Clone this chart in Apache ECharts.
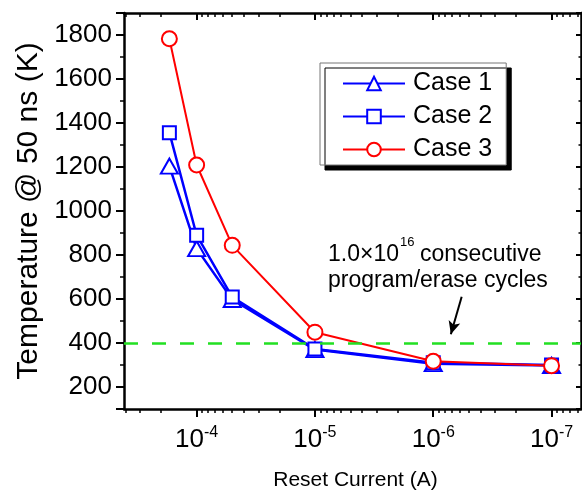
<!DOCTYPE html>
<html>
<head>
<meta charset="utf-8">
<script src="https://cdn.jsdelivr.net/npm/echarts@6/dist/echarts.min.js"></script>
<style>
html, body { margin: 0; padding: 0; background: #fff; }
#main { width: 582px; height: 492px; }
</style>
</head>
<body>
<div id="main"></div>
<script>
// values
var resetCurrent = [1.7e-4, 1e-4, 5e-5, 1e-5, 1e-6, 1e-7];   // A
var case1Temp = [1204, 829, 598, 370, 306, 298];              // K
var case2Temp = [1356, 890, 609, 373, 310, 300];
var case3Temp = [1783, 1209, 844, 449, 317, 297];
var seriesNames = ['Case 1', 'Case 2', 'Case 3'];
var xMajorExp = [-4, -5, -6, -7];       // tick labels 10^n
var limitTemp = 400;                    // 1.0x10^16 cycles line
var arrowFrom = [5.75e-7, 610];
var arrowTo = [7.1e-7, 440];

// axis ends, log10(A)
var xMinExp = -7.249, xMaxExp = -3.386;

// minor ticks 2..9 x 10^n
var xMinorExp = [];
for (var d = -8; d <= -4; d++) {
	for (var k = 2; k <= 9; k++) {
		var e = d + Math.log10(k);
		if (e > xMinExp && e < xMaxExp) xMinorExp.push(e);
	}
}

function pairs(vals) {
	var res = [];
	for (var i = 0; i < vals.length; i++) {
		res.push([resetCurrent[i], vals[i]]);
	}
	return res;
}

var FONT = 'Liberation Sans';
var black = '#000';

var myChart = echarts.init(document.getElementById('main'), null, {renderer: 'canvas'});

// one x axis carrying ticks only, in log10 space
function tickAxis(pos, vals, len, w, inside, showLine) {
	return {
		type: 'value', position: pos, inverse: true,
		min: xMinExp, max: xMaxExp,
		axisLine: {show: showLine, onZero: false, lineStyle: {color: black, width: 2.5}},
		axisTick: {show: true, inside: inside, customValues: vals, length: len, lineStyle: {color: black, width: w}},
		axisLabel: {show: false},
		splitLine: {show: false}
	};
}

var xAxes = [
	{
		type: 'log', logBase: 10, position: 'bottom', inverse: true,
		min: Math.pow(10, xMinExp), max: Math.pow(10, xMaxExp),
		axisLine: {show: true, onZero: false, lineStyle: {color: black, width: 2.5}},
		axisTick: {show: false},
		axisLabel: {show: false},
		splitLine: {show: false},
		minorTick: {show: false},
		name: 'Reset Current (A)',
		nameLocation: 'middle',
		nameGap: 61,
		nameTextStyle: {fontSize: 21, color: black, fontFamily: FONT, padding: [0, 0, 0, 6]}
	},
	{
		type: 'value', position: 'bottom', inverse: true,
		min: xMinExp, max: xMaxExp,
		axisLine: {show: false},
		axisTick: {show: true, customValues: xMajorExp, length: 8, lineStyle: {color: black, width: 2}},
		axisLabel: {
			show: true,
			customValues: xMajorExp,
			margin: 16,
			formatter: function (v) { return '{b|10}{s|' + v + '}'; },
			rich: {
				b: {fontSize: 26, lineHeight: 30, color: black, fontFamily: FONT, verticalAlign: 'middle'},
				s: {fontSize: 16, lineHeight: 14, color: black, fontFamily: FONT, verticalAlign: 'top'}
			}
		},
		splitLine: {show: false}
	},
	tickAxis('bottom', xMinorExp, 4, 1.5, false, false),
	tickAxis('top', xMajorExp, 7, 2, true, true),
	tickAxis('top', xMinorExp, 4, 1.5, true, false)
];

var yAxes = [
	{
		type: 'value', position: 'left',
		min: 100, max: 1900, splitNumber: 9,
		axisLine: {show: true, onZero: false, lineStyle: {color: black, width: 2.5}},
		axisTick: {show: true, length: 8, lineStyle: {color: black, width: 2}},
		minorTick: {show: true, splitNumber: 2, length: 4, lineStyle: {color: black, width: 1.5}},
		axisLabel: {
			fontSize: 26, color: black, fontFamily: FONT, margin: 12,
			showMinLabel: false, showMaxLabel: false,
			formatter: function (v) { return String(v); }
		},
		splitLine: {show: false},
		name: 'Temperature @ 50 ns (K)',
		nameLocation: 'middle',
		nameGap: 75,
		nameTextStyle: {fontSize: 30, color: black, fontFamily: FONT}
	},
	{
		type: 'value', position: 'right',
		min: 100, max: 1900, splitNumber: 9,
		axisLine: {show: true, onZero: false, lineStyle: {color: black, width: 2.5}},
		axisTick: {show: true, inside: true, length: 5, lineStyle: {color: black, width: 2}},
		minorTick: {show: true, splitNumber: 2, length: 2.5, lineStyle: {color: black, width: 1.5}},
		axisLabel: {show: false},
		splitLine: {show: false}
	}
];

var noteStyle = {fontSize: 23, fill: black, fontFamily: FONT};

var option = {
	animation: false,
	backgroundColor: '#fff',
	textStyle: {fontFamily: FONT},
	grid: {left: 124, right: 1, top: 13, bottom: 83, outerBoundsMode: 'none'},
	legend: {
		orient: 'vertical',
		left: 320, top: 63,
		data: seriesNames,
		selectedMode: false,
		itemWidth: 62, itemHeight: 17, itemGap: 8,
		padding: [8, 14, 3, 22],
		backgroundColor: '#fff',
		borderColor: '#777', borderWidth: 1,
		shadowColor: '#000', shadowBlur: 0, shadowOffsetX: 5, shadowOffsetY: 5,
		textStyle: {fontSize: 25, color: black, fontFamily: FONT, padding: [0, 0, 0, 3]}
	},
	xAxis: xAxes,
	yAxis: yAxes,
	graphic: [
		{type: 'text', left: 328, top: 243, silent: true,
			style: echarts.util.extend({text: '1.0×10'}, noteStyle)},
		{type: 'text', left: 400, top: 236, silent: true,
			style: {text: '16', fontSize: 13, fill: black, fontFamily: FONT}},
		{type: 'text', left: 420, top: 243, silent: true,
			style: echarts.util.extend({text: 'consecutive'}, noteStyle)},
		{type: 'text', left: 328, top: 269, silent: true,
			style: echarts.util.extend({text: 'program/erase cycles'}, noteStyle)}
	],
	series: [
		{
			name: 'Case 1', type: 'line',
			data: pairs(case1Temp),
			symbol: 'emptyTriangle', symbolSize: [17, 15],
			lineStyle: {color: '#0000ff', width: 2.5},
			itemStyle: {color: '#0000ff', borderWidth: 2},
			emphasis: {disabled: true}
		},
		{
			name: 'Case 2', type: 'line',
			data: pairs(case2Temp),
			symbol: 'emptyRect', symbolSize: 13,
			lineStyle: {color: '#0000ff', width: 2.5},
			itemStyle: {color: '#0000ff', borderWidth: 2},
			emphasis: {disabled: true}
		},
		{
			name: 'Case 3', type: 'line',
			data: pairs(case3Temp),
			symbol: 'emptyCircle', symbolSize: 15,
			lineStyle: {color: '#ff0000', width: 2},
			itemStyle: {color: '#ff0000', borderWidth: 2},
			emphasis: {disabled: true},
			markLine: {
				silent: true,
				symbol: 'none',
				label: {show: false},
				data: [
					[
						{coord: [Math.pow(10, xMaxExp), limitTemp], lineStyle: {color: '#22e022', width: 2.5, type: [14, 14]}},
						{coord: [Math.pow(10, xMinExp), limitTemp]}
					],
					[
						{coord: arrowFrom, symbol: 'none', lineStyle: {color: black, width: 2, type: 'solid'}},
						{coord: arrowTo, symbol: 'arrow', symbolSize: [9, 13]}
					]
				]
			}
		}
	]
};

myChart.setOption(option);
</script>
</body>
</html>
